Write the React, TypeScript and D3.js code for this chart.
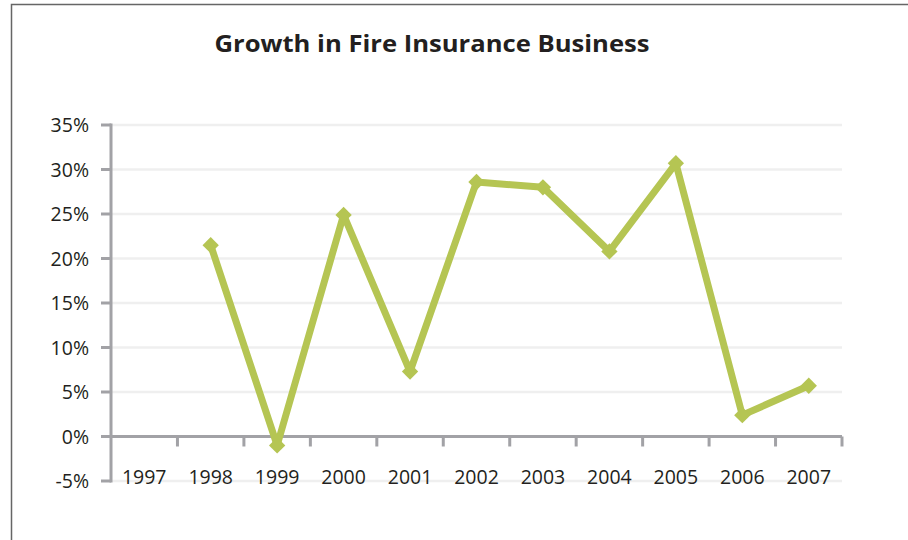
import React from "react";
import * as d3 from "d3";

const years = ["1997","1998","1999","2000","2001","2002","2003","2004","2005","2006","2007"];
const growth: (number | null)[] = [null, 21.5, -1.0, 24.9, 7.3, 28.6, 28.0, 20.8, 30.7, 2.4, 5.7];
const yTicks = [-5, 0, 5, 10, 15, 20, 25, 30, 35];
const title = "Growth in Fire Insurance Business";

export default function App() {
  const W = 908, H = 540;
  const x = d3.scaleBand<string>().domain(years).range([111, 842]);
  const y = d3.scaleLinear().domain([-5, 35]).range([481, 125]);
  const pts = years
    .map((yr, i) => ({ yr, v: growth[i] }))
    .filter((d) => d.v !== null) as { yr: string; v: number }[];
  const line = d3
    .line<{ yr: string; v: number }>()
    .x((d) => (x(d.yr) as number) + x.bandwidth() / 2)
    .y((d) => y(d.v));
  const diamond = d3.symbol().type(d3.symbolDiamond2).size(170)();
  const font = "'Open Sans', 'Noto Sans', sans-serif";
  const green = "#b5c553";
  const axisCol = "#a2a2a6";
  const boundaries = years.map((yr) => x(yr) as number).concat([842]);
  return (
    <svg width={W} height={H} style={{ position: "absolute", left: 0, top: 0, background: "#fff" }}>
      <rect x={11.5} y={4.5} width={W + 20} height={H + 20} fill="#fff" stroke="#666" strokeWidth={1.5} />
      <text x={432} y={52} textAnchor="middle" fontFamily={font} fontWeight={700} fontSize={24} fill="#231f20" textLength={435} lengthAdjust="spacingAndGlyphs">{title}</text>
      {yTicks.map((t) => (
        <g key={t}>
          <line x1={111} x2={842} y1={y(t)} y2={y(t)} stroke="#efefef" strokeWidth={2.5} />
          <line x1={101} x2={111} y1={y(t)} y2={y(t)} stroke={axisCol} strokeWidth={3} />
          <text x={89} y={y(t)} dy="0.36em" textAnchor="end" fontFamily={font} fontSize={19.5} fill="#231f20">{t}%</text>
        </g>
      ))}
      <line x1={111} x2={842} y1={y(0)} y2={y(0)} stroke={axisCol} strokeWidth={3} />
      {boundaries.slice(1).map((bx, i) => (
        <line key={i} x1={bx} x2={bx} y1={y(0)} y2={y(0) + 10} stroke={axisCol} strokeWidth={3} />
      ))}
      <line x1={111} x2={111} y1={y(35) - 1.5} y2={y(-5) + 1.5} stroke={axisCol} strokeWidth={3} />
      {years.map((yr) => (
        <text key={yr} x={(x(yr) as number) + x.bandwidth() / 2} y={477} dy="0.36em" textAnchor="middle" fontFamily={font} fontSize={19.5} fill="#231f20">{yr}</text>
      ))}
      <path d={line(pts) as string} fill="none" stroke={green} strokeWidth={7} strokeLinejoin="round" />
      {pts.map((d) => (
        <path key={d.yr} d={diamond as string} transform={`translate(${(x(d.yr) as number) + x.bandwidth() / 2},${y(d.v)})`} fill={green} />
      ))}
    </svg>
  );
}
